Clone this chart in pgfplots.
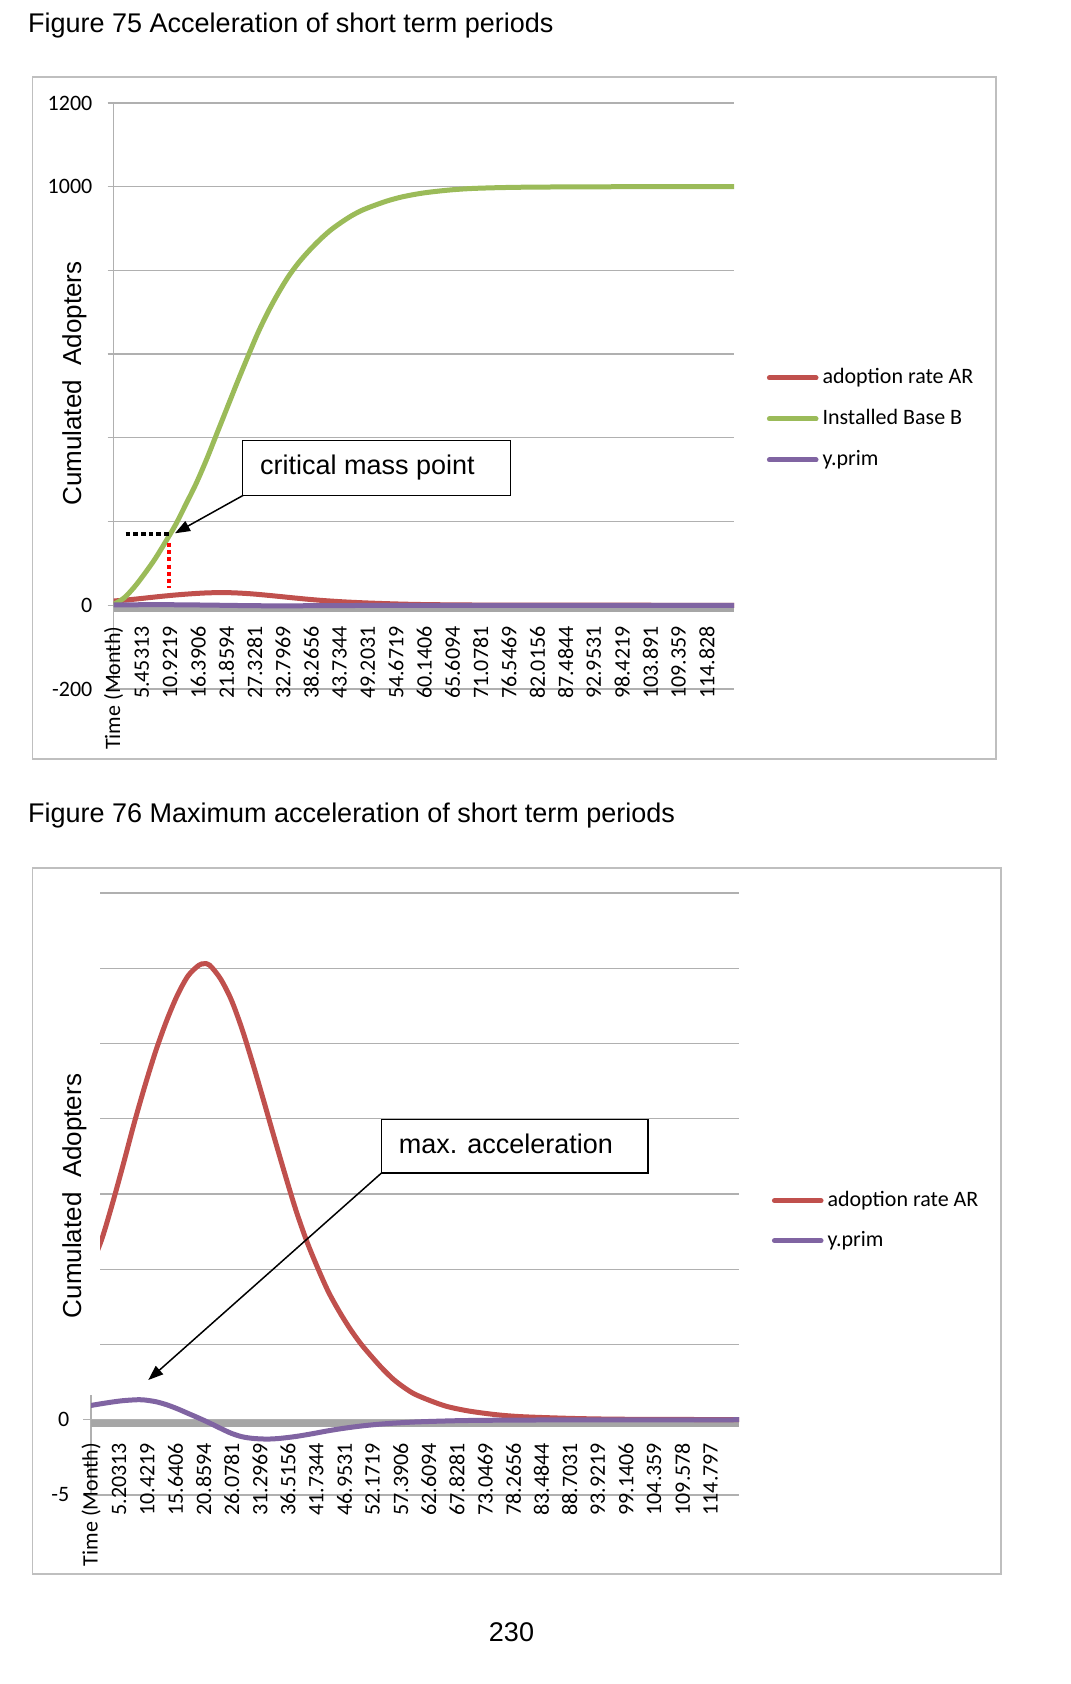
\documentclass[border=0pt]{standalone}
\usepackage{pgfplots}
\pgfplotsset{compat=1.18}
\usepackage{pgfplotstable}
\usetikzlibrary{arrows.meta}
\usepackage{fontspec}
\setmainfont{Liberation Sans}
\newfontfamily\carlito{Carlito}
\newcommand\tickfont{\carlito\fontsize{22bp}{26bp}\selectfont}
\newcommand\bigfont{\fontsize{27bp}{32bp}\selectfont}
\newcommand\ytitlefont{\fontsize{26bp}{30bp}\selectfont}
\definecolor{arred}{HTML}{C0504D}
\definecolor{ibgreen}{HTML}{9BBB59}
\definecolor{yppurple}{HTML}{8064A2}
\definecolor{gridgray}{HTML}{B0B0B0}
\definecolor{bandgray}{HTML}{A6A6A6}
\definecolor{framegray}{HTML}{BFBFBF}

\pgfplotstableread{
t v
0 10.2
2 12.0
4 14.4
6 17.0
8 19.7
10 22.2
12 24.5
14 26.5
16 28.2
18 29.5
20 30.2
21 30.3
22 30.2
24 29.3
26 27.9
28 25.95
30 23.65
32 21.2
34 18.7
36 16.25
38 13.9
40 11.85
42 10.1
44 8.5
46 7.2
48 6.05
50 5.05
52 4.2
54 3.4
56 2.7
58 2.15
60 1.7
63 1.25
66 0.88
70 0.58
75 0.34
80 0.2
90 0.08
100 0.03
120.1 0.01
}\artable

\pgfplotstableread{
t v
0 2
2 17
4 43
6 75
8 110
10 150
12 192
14 241
16 291
18 348
20 410
22 472
24 534
26 594
28 652
30 703
32 748
34 788
36 821
38 849
40 874
42 896
44 914
46 930
48 943
50 953
53 966
56 976
60 985
65 992
70 996
78 998.5
90 999.6
105 1000
120.1 1000
}\ibtable

\pgfplotstableread{
t v
0 0.95
2 1.07
4 1.18
6 1.27
8 1.32
9 1.33
10 1.31
12 1.20
14 1.00
16 0.73
18 0.42
20 0.11
22 -0.22
24 -0.57
26 -0.90
28 -1.13
30 -1.24
32 -1.28
33.2 -1.28
35 -1.24
38 -1.11
41 -0.93
44 -0.73
47 -0.56
50 -0.42
53 -0.31
56 -0.23
60 -0.15
65 -0.09
70 -0.05
80 -0.02
95 -0.01
120.1 0
}\yptable

\pgfplotsset{
  common/.style={
    scale only axis,
    xmin=0, xmax=120.1,
    axis x line=middle, axis y line=left,
    axis line style={-},
    x axis line style={draw=none},
    y axis line style={draw=gridgray, line width=1.3bp},
    hide obscured x ticks=false, hide obscured y ticks=false,
    ymajorgrids, grid style={draw=gridgray, line width=1.3bp},
    tick align=outside,
    ytick style={draw=gridgray, line width=1.3bp},
    xtick style={draw=none},
    xticklabel style={rotate=90, anchor=east, inner sep=0pt, font=\tickfont},
    xticklabel shift=15bp,
    legend cell align=left,
    legend image code/.code={\draw[##1] (0bp,0bp) -- (46.6bp,0bp);},
    every axis plot/.append style={line width=5bp, smooth, line join=round, line cap=round},
  }
}

\begin{document}
\begin{tikzpicture}[x=1bp,y=1bp]
\path[use as bounding box, fill=white] (0,0) rectangle (1070,1684);

% ---------- Figure 75 ----------
\node[anchor=base west, inner sep=0pt, font=\bigfont] at (28,1651.5) {Figure 75 Acceleration of short term periods};

\begin{axis}[common,
  at={(113.5bp,995bp)}, anchor=south west,
  width=620.5bp, height=586bp,
  ymin=-200, ymax=1200,
  ytick={-200,0,200,400,600,800,1000,1200},
  yticklabels={-200,0,,,,,1000,1200},
  yticklabel style={inner sep=0pt, font=\tickfont, xshift=-15bp},
  major tick length=6bp,
  xtick={0,5.46875,10.9375,16.40625,21.875,27.34375,32.8125,38.28125,43.75,49.21875,54.6875,60.15625,65.625,71.09375,76.5625,82.03125,87.5,92.96875,98.4375,103.90625,109.375,114.84375},
  xticklabels={Time (Month),5.45313,10.9219,16.3906,21.8594,27.3281,32.7969,38.2656,43.7344,49.2031,54.6719,60.1406,65.6094,71.0781,76.5469,82.0156,87.4844,92.9531,98.4219,103.891,109.359,114.828},
  legend style={at={(1.0527,0.4608)}, anchor=west, draw=none, fill=none, inner sep=0pt,
    row sep=20bp, column sep=4bp,
    nodes={inner sep=0pt, text height=16bp, text depth=5bp, font=\tickfont}},
]
\draw[bandgray, line width=6.5bp] ([yshift=-3.25bp]axis cs:0,0) -- ([yshift=-3.25bp]axis cs:120.1,0);
\addplot[arred] table[x=t,y=v] {\artable};
\addlegendentry{adoption rate AR}
\addplot[ibgreen] table[x=t,y=v] {\ibtable};
\addlegendentry{Installed Base B}
\addplot[yppurple] table[x=t,y=v] {\yptable};
\addlegendentry{y.prim}
\draw[black, line width=4.5bp, dash pattern=on 4.5bp off 3.2bp] (axis cs:2.36,170.3) -- (axis cs:11.27,170.3);
\draw[red, line width=4bp, dash pattern=on 4bp off 3.2bp] (axis cs:10.8,148.8) -- (axis cs:10.8,41.3);
\end{axis}

\draw[line width=1.5bp, fill=white] (242.3,1188.7) rectangle (510.7,1243.3);
\node[anchor=base west, inner sep=0pt, font=\bigfont] at (260,1209) {critical mass point};
\draw[line width=1.5bp, -{Triangle[length=15bp,width=11bp]}] (243.3,1188.7) -- (175,1150.7);
\node[rotate=90, anchor=base, inner sep=0pt, font=\ytitlefont] at (81,1300.5) {Cumulated\ \ Adopters};
\draw[framegray, line width=1.3bp] (32.7,925) rectangle (996,1607);

% ---------- Figure 76 ----------
\node[anchor=base west, inner sep=0pt, font=\bigfont] at (28,861) {Figure 76 Maximum acceleration of short term periods};

\begin{axis}[common,
  at={(91bp,189bp)}, anchor=south west,
  width=648bp, height=602bp,
  ymin=-5, ymax=35,
  ytick={-5,0,5,10,15,20,25,30,35},
  yticklabels={-5,0,,,,,,,},
  yticklabel style={inner sep=0pt, font=\tickfont, xshift=-13.5bp},
  major tick length=8bp,
  xtick={0,5.21875,10.4375,15.65625,20.875,26.09375,31.3125,36.53125,41.75,46.96875,52.1875,57.40625,62.625,67.84375,73.0625,78.28125,83.5,88.71875,93.9375,99.15625,104.375,109.59375,114.8125},
  xticklabels={Time (Month),5.20313,10.4219,15.6406,20.8594,26.0781,31.2969,36.5156,41.7344,46.9531,52.1719,57.3906,62.6094,67.8281,73.0469,78.2656,83.4844,88.7031,93.9219,99.1406,104.359,109.578,114.797},
  legend style={at={(1.0505,0.4556)}, anchor=west, draw=none, fill=none, inner sep=0pt,
    row sep=19bp, column sep=4bp,
    nodes={inner sep=0pt, text height=16bp, text depth=5bp, font=\tickfont}},
]
\draw[bandgray, line width=7bp] ([yshift=-3.5bp]axis cs:0,0) -- ([yshift=-3.5bp]axis cs:120.1,0);
\addplot[arred] table[x=t,y=v] {\artable};
\addlegendentry{adoption rate AR}
\addplot[yppurple] table[x=t,y=v] {\yptable};
\addlegendentry{y.prim}
\end{axis}

\fill[white] (33.5,289) rectangle (100,815.5);
\draw[line width=1.5bp, fill=white] (381.4,510.9) rectangle (647.8,564.6);
\node[anchor=base west, inner sep=0pt, font=\bigfont] at (398.6,530.3) {max. acceleration};
\draw[line width=1.5bp, -{Triangle[length=15bp,width=11bp]}] (381.4,510.9) -- (148.3,304);
\node[rotate=90, anchor=base, inner sep=0pt, font=\ytitlefont] at (81,488) {Cumulated\ \ Adopters};
\draw[framegray, line width=1.3bp] (32.7,110) rectangle (1001,816);

\node[anchor=base, inner sep=0pt, font=\bigfont] at (511.5,42.5) {230};
\end{tikzpicture}
\end{document}
